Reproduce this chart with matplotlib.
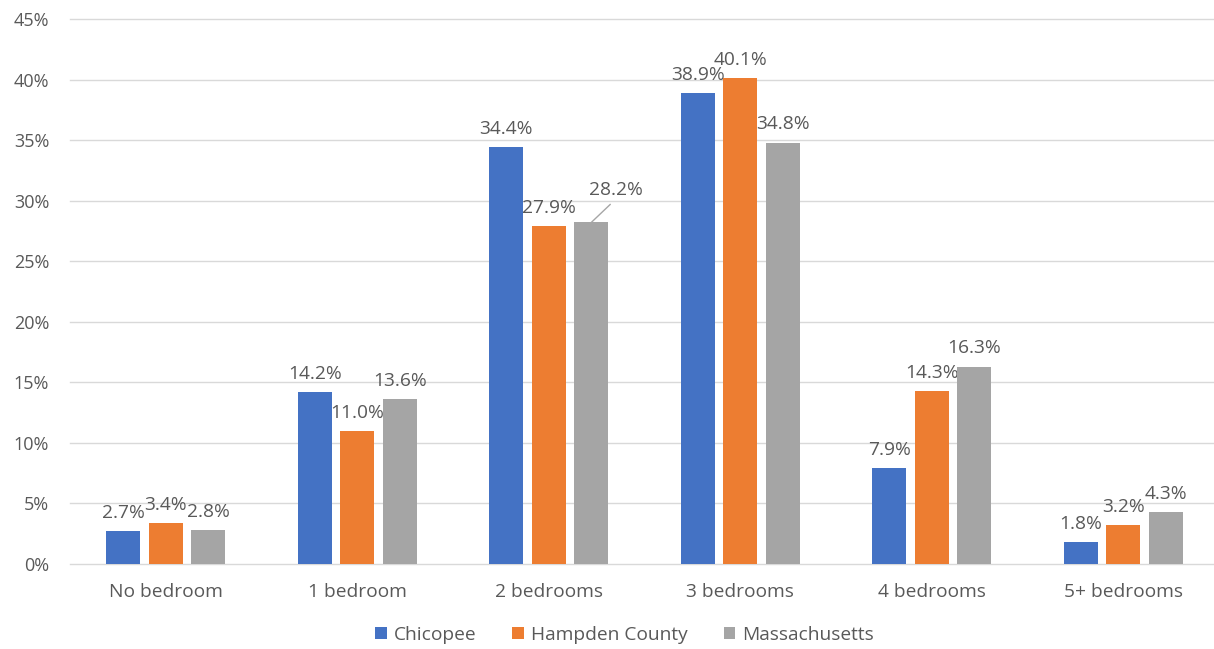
import matplotlib
matplotlib.use("Agg")
import matplotlib.pyplot as plt
import numpy as np

categories = ["No bedroom", "1 bedroom", "2 bedrooms", "3 bedrooms", "4 bedrooms", "5+ bedrooms"]
chicopee = [2.7, 14.2, 34.4, 38.9, 7.9, 1.8]
hampden = [3.4, 11.0, 27.9, 40.1, 14.3, 3.2]
massachusetts = [2.8, 13.6, 28.2, 34.8, 16.3, 4.3]
series_names = ["Chicopee", "Hampden County", "Massachusetts"]
colors = ["#4472C4", "#ED7D31", "#A5A5A5"]
yticks = [0, 5, 10, 15, 20, 25, 30, 35, 40, 45]

plt.rcParams['font.family'] = ['Open Sans', 'DejaVu Sans']
text_color = "#595959"
fs = 13.8

fig = plt.figure(figsize=(12.14, 6.49), dpi=100)
W, H = 1214, 649
ax = fig.add_axes([70 / W, (649 - 564) / H, 1149 / W, (564 - 19) / H])

x = np.arange(len(categories))
bw = 0.178
step = 0.222
series = [chicopee, hampden, massachusetts]
for i, (vals, name, c) in enumerate(zip(series, series_names, colors)):
    pos = x + (i - 1) * step
    ax.bar(pos, vals, width=bw, color=c, label=name, zorder=3)
    for j, (px, v) in enumerate(zip(pos, vals)):
        if name == "Massachusetts" and categories[j] == "2 bedrooms":
            ax.annotate(f"{v:.1f}%", xy=(px, v), xytext=(18, 20), textcoords="offset points",
                        ha="center", va="baseline", fontsize=fs, color=text_color,
                        arrowprops=dict(arrowstyle="-", color="#A6A6A6", lw=1,
                                        shrinkA=3, shrinkB=0, relpos=(0.5, 0.0)))
        else:
            ax.annotate(f"{v:.1f}%", xy=(px, v), xytext=(0, 9.5), textcoords="offset points",
                        ha="center", va="baseline", fontsize=fs, color=text_color)

ax.set_xlim(-0.5, len(categories) - 0.5)
ax.set_ylim(0, 45)
ax.set_yticks(yticks)
ax.set_yticklabels([f"{t}%" for t in yticks])
ax.set_xticks(x)
ax.set_xticklabels(categories)
ax.grid(axis="y", color="#D9D9D9", lw=1, zorder=0, clip_on=False)
for s in ax.spines.values():
    s.set_visible(False)
ax.tick_params(axis="both", length=0, labelsize=fs, colors=text_color)
ax.tick_params(axis="y", labelsize=13)
ax.tick_params(axis="x", pad=14)
ax.tick_params(axis="y", pad=15)

leg = ax.legend(loc="upper center", bbox_to_anchor=(0.5 - 20 / 1149, -0.082), ncol=3, frameon=False,
                fontsize=fs, handlelength=0.6, handleheight=0.6, handletextpad=0.35,
                columnspacing=1.9)
for t in leg.get_texts():
    t.set_color(text_color)

fig.savefig("out.png", dpi=100)
